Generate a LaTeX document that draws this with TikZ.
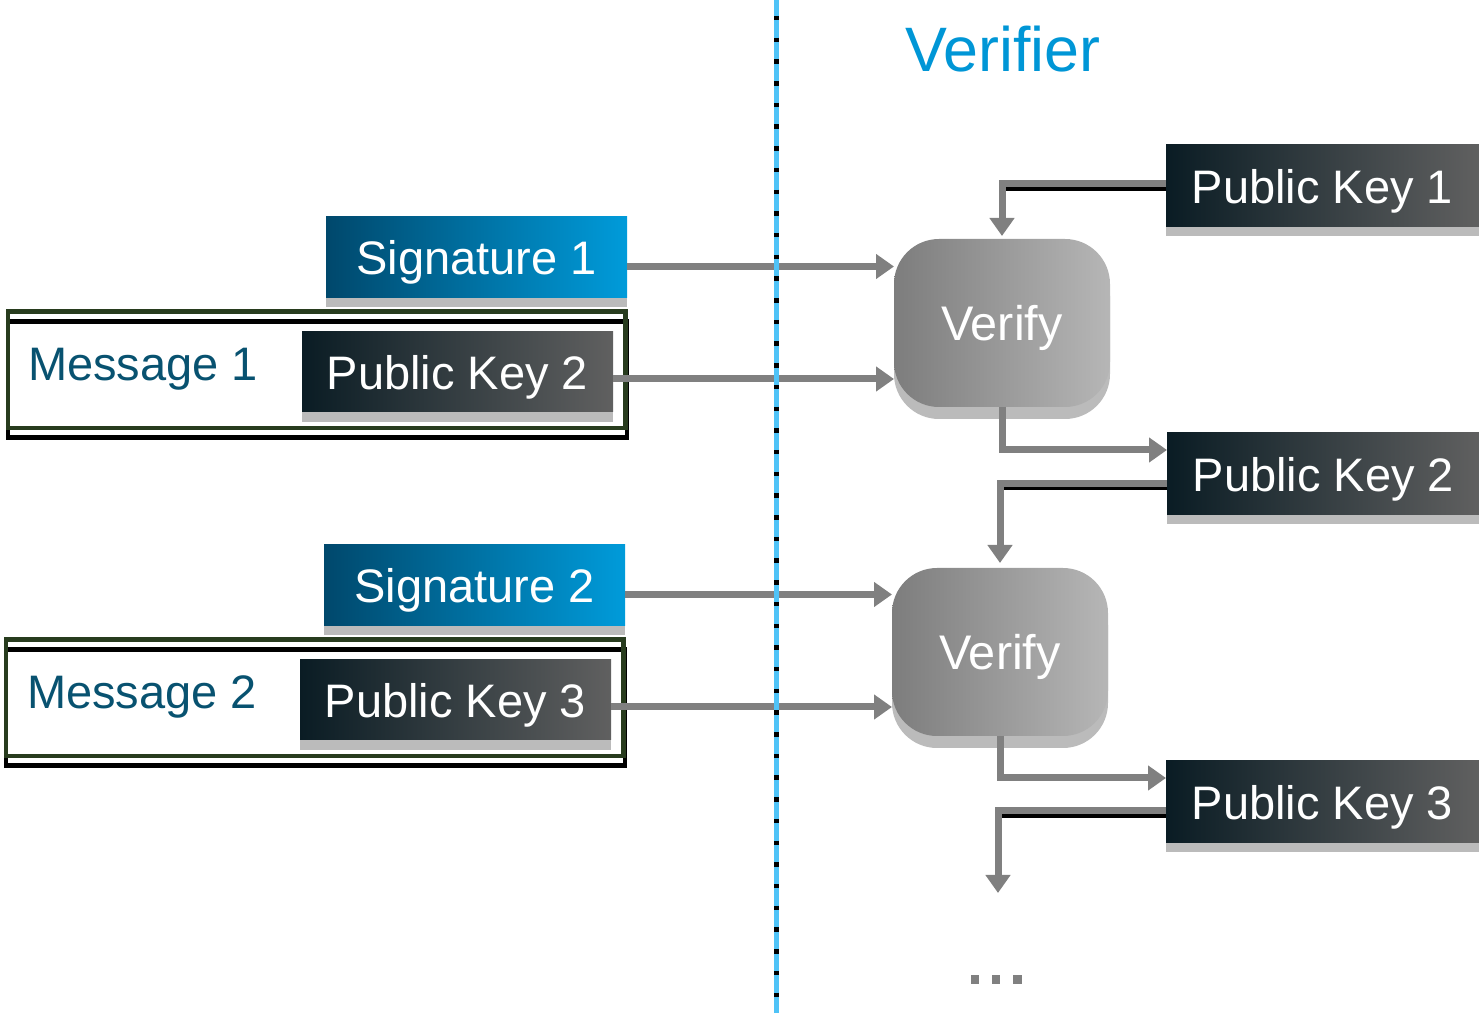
\documentclass[tikz,border=0pt]{standalone}
\usepackage{fontspec}
\setmainfont{Liberation Sans}
\usetikzlibrary{arrows.meta,shadows,backgrounds,calc}
\definecolor{sigL}{RGB}{0,72,108}
\definecolor{sigR}{RGB}{0,155,218}
\definecolor{pkL}{RGB}{10,28,36}
\definecolor{pkR}{RGB}{96,96,96}
\definecolor{vL}{RGB}{125,125,125}
\definecolor{vR}{RGB}{182,182,182}
\definecolor{shgray}{RGB}{187,187,187}
\definecolor{arrgray}{RGB}{128,128,128}
\definecolor{msgblue}{RGB}{8,82,112}
\definecolor{verblue}{RGB}{0,150,214}
\definecolor{frgreen}{RGB}{40,60,30}
\definecolor{divblue}{RGB}{79,195,247}
\begin{document}
\begin{tikzpicture}[x=0.5pt,y=-0.5pt,
  lbl/.style={font=\fontsize{23.5pt}{28pt}\selectfont, text depth=0pt},
  basebox/.style={lbl, text=white, inner sep=0pt, outer sep=0pt},
  sigbox/.style={basebox, minimum width=150.5pt, minimum height=40.5pt,
    left color=sigL, right color=sigR,
    drop shadow={shadow xshift=0pt,shadow yshift=-4.5pt,fill=shgray,opacity=1}},
  pkbox/.style={basebox, minimum width=155.5pt, minimum height=40pt,
    left color=pkL, right color=pkR,
    drop shadow={shadow xshift=0pt,shadow yshift=-5pt,fill=shgray,opacity=1}},
  pkrbox/.style={basebox, minimum width=156.5pt, minimum height=41pt,
    left color=pkL, right color=pkR,
    drop shadow={shadow xshift=0pt,shadow yshift=-4.5pt,fill=shgray,opacity=1}},
  vbox/.style={inner sep=0pt, outer sep=0pt, text=white, text depth=0pt,
    font=\fontsize{24.3pt}{29pt}\selectfont,
    rounded corners=22.5pt, minimum width=108pt, minimum height=84pt,
    left color=vL, right color=vR,
    drop shadow={shadow xshift=0pt,shadow yshift=-6pt,fill=shgray,opacity=1}},
  frame/.style={draw=frgreen, line width=2.25pt, inner sep=0pt, outer sep=0pt,
    minimum width=308.75pt, minimum height=58.25pt},
  msgtext/.style={lbl, text=msgblue, inner sep=0pt},
  arr/.style={draw=arrgray, line width=3.5pt, -{Triangle[length=9pt,width=12pt]}},
  shline/.style={draw=black, line width=2pt}
]
\useasboundingbox (0,0) rectangle (1479,1015);

% title
\node[font=\fontsize{31.4pt}{36pt}\selectfont, text=verblue] (title) at (1003,49) {Verifier};

% left side
\node[sigbox] (sig1) at (476.5,257.5) {Signature 1};
\node[frame] (m1box) at (316.75,369.75) {};
\node[msgtext] (msg1) at (143,364) {Message 1};
\node[pkbox] (pk2L) at (457.5,372) {Public Key 2};

\node[sigbox] (sig2) at (474.5,585.5) {Signature 2};
\node[frame] (m2box) at (314.75,697.75) {};
\node[msgtext] (msg2) at (142,692) {Message 2};
\node[pkbox] (pk3L) at (455.5,700) {Public Key 3};

\begin{scope}[on background layer]
  \draw[black,line width=2.25pt] ([yshift=-5pt]m1box.north west) rectangle ([xshift=0.75pt,yshift=-4.75pt]m1box.south east);
  \draw[black,line width=2.25pt] ([yshift=-5pt]m2box.north west) rectangle ([xshift=0.75pt,yshift=-4.75pt]m2box.south east);
\end{scope}

% right side
\node[pkrbox] (pk1R) at (1322.5,186) {Public Key 1};
\node[pkrbox] (pk2R) at (1323.5,474) {Public Key 2};
\node[pkrbox] (pk3R) at (1322.5,802) {Public Key 3};
\node[vbox] (v1) at (1002,323) {Verify};
\node[vbox] (v2) at (1000,652) {Verify};
\coordinate (endp) at (998,893);

% arrows from left
\draw[arr] ([yshift=-4.5pt]sig1.east) -- ([yshift=-4.5pt]sig1.east -| v1.west);
\draw[arr] ([yshift=-3.5pt]pk2L.east) -- ([yshift=-3.5pt]pk2L.east -| v1.west);
\draw[arr] ([yshift=-4.5pt]sig2.east) -- ([yshift=-4.5pt]sig2.east -| v2.west);
\draw[arr] ([yshift=-3.5pt]pk3L.east) -- ([yshift=-3.5pt]pk3L.east -| v2.west);

% right side arrows
\draw[shline] ([yshift=-1.5pt]pk1R.west) -- ([yshift=-1.5pt]pk1R.west -| v1.north);
\draw[arr] ([yshift=1.25pt]pk1R.west) -| ([yshift=1.5pt]v1.north);

\draw[arr] (v1.south) |- ([yshift=12pt]pk2R.west);

\draw[shline] ([yshift=-7pt]pk2R.west) -- ([yshift=-7pt]pk2R.west -| v2.north);
\draw[arr] ([yshift=-5pt]pk2R.west) -| ([yshift=2.5pt]v2.north);

\draw[arr] (v2.south) |- ([yshift=12pt]pk3R.west);

\draw[shline] ([yshift=-7pt]pk3R.west) -- ([yshift=-7pt]pk3R.west -| endp);
\draw[arr] ([yshift=-4.25pt]pk3R.west) -| (endp);

% ellipsis
\fill[arrgray] (970.5,975) rectangle ++(8.5,9);
\fill[arrgray] (991.75,975) rectangle ++(8.5,9);
\fill[arrgray] (1013,975) rectangle ++(8.5,9);

% divider
\coordinate (dtop) at (776.5,0);
\coordinate (dbot) at (776.5,1013);
\draw[divblue,line width=2.5pt] (dtop) -- (dbot);
\draw[black,line width=2.5pt,dash pattern=on 2.25pt off 8.6pt,dash phase=-8pt] (dtop) -- (dbot);
\end{tikzpicture}
\end{document}
